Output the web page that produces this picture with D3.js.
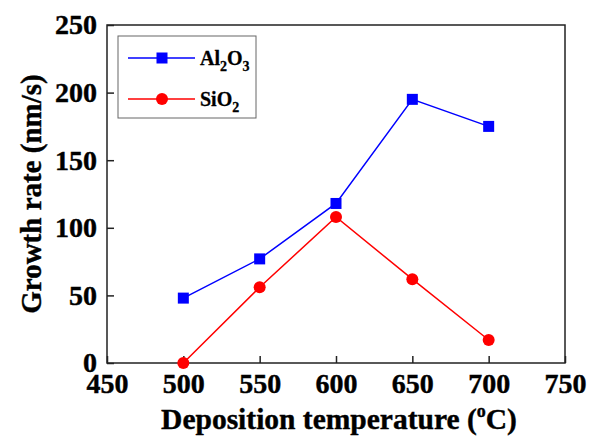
<!DOCTYPE html>
<html>
<head>
<meta charset="utf-8">
<script src="https://cdn.jsdelivr.net/npm/d3@7"></script>
<style>
  body { margin: 0; background: #fff; }
  text { font-family: "Liberation Serif", "Times New Roman", serif; font-weight: bold; }
</style>
</head>
<body>
<div id="chart"></div>
<script>
var temps = [500, 550, 600, 650, 700];
var al2o3 = [48, 77, 118, 195, 175];
var sio2 = [0, 56, 108, 62, 17];
var xTicks = [450, 500, 550, 600, 650, 700, 750];
var yTicks = [0, 50, 100, 150, 200, 250];

var width = 589, height = 436;
var margin = { top: 25, right: 24, bottom: 73, left: 107 };

var svg = d3.select("#chart").append("svg")
  .attr("width", width)
  .attr("height", height);

var x = d3.scaleLinear().domain([450, 750]).range([margin.left, width - margin.right]);
var y = d3.scaleLinear().domain([0, 250]).range([height - margin.bottom, margin.top]);

// frame
svg.append("rect")
  .attr("x", x(450)).attr("y", y(250))
  .attr("width", x(750) - x(450)).attr("height", y(0) - y(250))
  .attr("fill", "none").attr("stroke", "#222").attr("stroke-width", 1.5);

// axes, ticks inward
var xAxis = svg.append("g")
  .attr("transform", `translate(0,${y(0)})`)
  .call(d3.axisBottom(x).tickValues(xTicks).tickSizeInner(-7).tickSizeOuter(0).tickPadding(15));
var yAxis = svg.append("g")
  .attr("transform", `translate(${x(450)},0)`)
  .call(d3.axisLeft(y).tickValues(yTicks).tickSizeInner(-7).tickSizeOuter(0).tickPadding(10));

[xAxis, yAxis].forEach(function (g) {
  g.select(".domain").remove();
  g.selectAll(".tick line").attr("stroke", "#222").attr("stroke-width", 1.5);
  g.selectAll(".tick text")
    .attr("fill", "#000")
    .attr("stroke", "#000").attr("stroke-width", 0.4)
    .style("font-size", "28px")
    .style("font-family", "'Liberation Serif', serif")
    .style("font-weight", "bold");
});
xAxis.selectAll(".tick text").attr("dy", "0.55em");
yAxis.selectAll(".tick text").attr("dy", "0.32em");

// axis titles
var xt = svg.append("text")
  .attr("x", (x(450) + x(750)) / 2 + 3)
  .attr("y", 429)
  .attr("text-anchor", "middle")
  .attr("stroke", "#000").attr("stroke-width", 0.4)
  .style("font-size", "29.5px");
xt.append("tspan").text("Deposition temperature (");
xt.append("tspan").text("o").attr("font-size", "18px").attr("dy", "-12");
xt.append("tspan").text("C)").attr("dy", "12");

svg.append("text")
  .attr("transform", `translate(41,${(y(0) + y(250)) / 2}) rotate(-90)`)
  .attr("text-anchor", "middle")
  .attr("stroke", "#000").attr("stroke-width", 0.4)
  .style("font-size", "29px")
  .text("Growth rate (nm/s)");

// series
var series = [
  { name: "al", values: al2o3, color: "#0000ff", shape: "square" },
  { name: "si", values: sio2, color: "#ff0000", shape: "circle" }
];

var line = d3.line().x(function (d, i) { return x(temps[i]); }).y(function (d) { return y(d); });

series.forEach(function (s) {
  svg.append("path")
    .datum(s.values)
    .attr("fill", "none")
    .attr("stroke", s.color)
    .attr("stroke-width", 1.5)
    .attr("d", line);

  if (s.shape === "square") {
    svg.selectAll(".m-" + s.name)
      .data(s.values)
      .join("rect")
      .attr("class", "m-" + s.name)
      .attr("x", function (d, i) { return x(temps[i]) - 5.5; })
      .attr("y", function (d) { return y(d) - 5.5; })
      .attr("width", 11).attr("height", 11)
      .attr("fill", s.color);
  } else {
    svg.selectAll(".m-" + s.name)
      .data(s.values)
      .join("circle")
      .attr("class", "m-" + s.name)
      .attr("cx", function (d, i) { return x(temps[i]); })
      .attr("cy", function (d) { return y(d); })
      .attr("r", 6)
      .attr("fill", s.color);
  }
});

// legend
var legend = svg.append("g");
legend.append("rect")
  .attr("x", 118).attr("y", 36)
  .attr("width", 138).attr("height", 82)
  .attr("fill", "#fff").attr("stroke", "#666").attr("stroke-width", 1);

var rows = [
  { s: series[0], label: ["Al", "2", "O", "3"], y: 58 },
  { s: series[1], label: ["SiO", "2"], y: 99 }
];
rows.forEach(function (r) {
  legend.append("line")
    .attr("x1", 128).attr("x2", 195)
    .attr("y1", r.y).attr("y2", r.y)
    .attr("stroke", r.s.color).attr("stroke-width", 1.5);
  if (r.s.shape === "square") {
    legend.append("rect")
      .attr("x", 162 - 5.5).attr("y", r.y - 5.5)
      .attr("width", 11).attr("height", 11)
      .attr("fill", r.s.color);
  } else {
    legend.append("circle")
      .attr("cx", 162).attr("cy", r.y).attr("r", 6)
      .attr("fill", r.s.color);
  }
  var t = legend.append("text")
    .attr("x", 200).attr("y", r.y + 7)
    .attr("stroke", "#000").attr("stroke-width", 0.3)
    .style("font-size", "20px");
  r.label.forEach(function (part, i) {
    var sub = i % 2 === 1;
    t.append("tspan")
      .text(part)
      .attr("font-size", sub ? "14px" : "20px")
      .attr("dy", sub ? 6 : (i > 0 ? -6 : 0));
  });
});
</script>
</body>
</html>
